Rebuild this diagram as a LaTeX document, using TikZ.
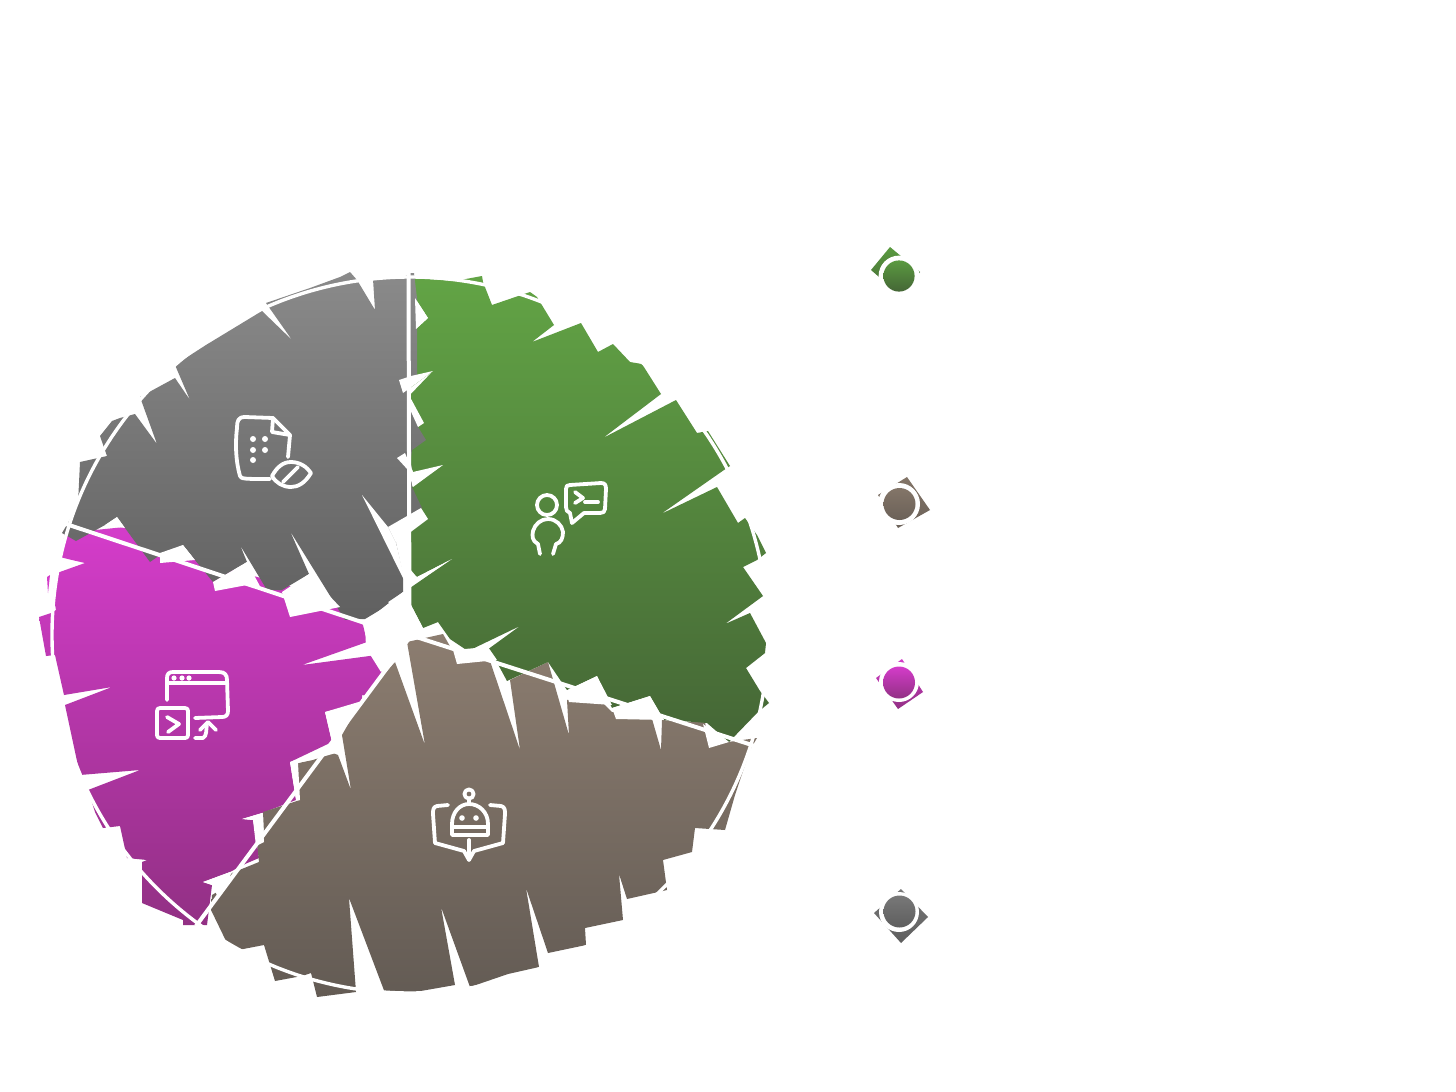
\documentclass[tikz,border=0pt]{standalone}
\usetikzlibrary{calc}
\definecolor{gnT}{HTML}{62A445}\definecolor{gnB}{HTML}{456636}
\definecolor{gyT}{HTML}{8A8A8A}\definecolor{gyB}{HTML}{606060}
\definecolor{mgT}{HTML}{D43CCA}\definecolor{mgB}{HTML}{923084}
\definecolor{brT}{HTML}{8C7D70}\definecolor{brB}{HTML}{635B54}
\tikzset{
  gnfill/.style={top color=gnT,bottom color=gnB},
  gyfill/.style={top color=gyT,bottom color=gyB},
  mgfill/.style={top color=mgT,bottom color=mgB},
  brfill/.style={top color=brT,bottom color=brB},
  gnkey/.style={top color=5A9A40,bottom color=gnB},
  gykey/.style={top color=787878,bottom color=5E5E5E},
  mgkey/.style={top color=mgT,bottom color=mgB},
  brkey/.style={top color=837568,bottom color=6B6158},
  divider/.style={draw=white,line width=2pt},
  icon/.style={draw=white,line width=1.9pt,line cap=round,line join=round},
  dotmark/.style={fill=white},
  notch/.style={fill=white}
}
\definecolor{5A9A40}{HTML}{5A9A40}\definecolor{787878}{HTML}{787878}\definecolor{5E5E5E}{HTML}{5E5E5E}\definecolor{837568}{HTML}{837568}\definecolor{6B6158}{HTML}{6B6158}
\begin{document}
\begin{tikzpicture}[x=0.5pt,y=-0.5pt]
\useasboundingbox[fill=white] (0,0) rectangle (1456,1092);
% magenta
\shade[mgfill] plot coordinates {(60,557)(65,533)(125,527)(160,545)(213,563)(250,575)(340,600)(363,625)(367,642)(302,665)(377,655)(386,684)(373,697)(362,695)(362,703)(325,712)(332,742)(290,762)(296,800)(262,813)(242,819)(253,820)(257,843)(259,858)(245,864)(230,872)(203,882)(212,885)(207,925)(183,925)(183,920)(142,903)(142,862)(147,860)(127,858)(120,826)(103,828)(95,812)(88,790)(140,770)(80,775)(65,705)(112,687)(64,695)(55,655)(46,656)(39,617)(51,613)(56,610)(53,593)(57,573)(85,563)(72,560)} -- cycle;
\fill[mgT] (47,577)--(50,575)--(48,593)--cycle;
% brown
\shade[brfill] plot coordinates {(362,700)(395,662)(425,745)(407,642)(443,634)(451,648)(488,655)(520,750)(510,680)(548,662)(569,735)(567,700)(597,697)(612,712)(650,712)(661,750)(662,720)(690,722)(705,722)(709,745)(728,742)(757,738)(750,750)(735,795)(725,830)(695,828)(692,852)(663,860)(667,890)(627,899)(619,874)(623,920)(585,928)(586,945)(548,953)(526,888)(539,967)(508,974)(470,987)(441,907)(455,985)(415,992)(385,993)(349,898)(356,992)(317,997)(311,973)(302,976)(275,981)(264,945)(238,950)(227,943)(211,910)(212,895)(217,892)(232,873)(259,862)(257,843)(264,833)(263,812)(300,800)(297,782)(298,763)(313,760)(333,753)(338,755)(351,790)(342,735)} -- cycle;
% green
\shade[gnfill] plot coordinates {(413,278)(455,281)(482,276)(483,282)(492,305)(530,292)(537,297)(554,325)(532,342)(581,323)(598,352)(613,344)(630,362)(642,364)(661,394)(603,438)(676,400)(697,433)(708,431)(730,466)(724,470)(661,514)(717,487)(738,523)(745,518)(757,535)(766,553)(757,560)(743,567)(763,596)(725,624)(750,613)(766,643)(765,653)(746,668)(760,691)(769,703)(758,712)(729,742)(707,723)(695,722)(664,720)(650,696)(612,708)(597,676)(567,690)(548,662)(507,681)(493,655)(487,650)(520,626)(468,651)(450,639)(438,622)(423,628)(410,603)(410,588)(452,559)(417,577)(411,570)(411,490)(413,485)(443,465)(414,477)(410,460)(410,395)(433,371)(410,388)(410,330)(416,329)(428,318)(415,298)} -- cycle;
% gray
\shade[gyfill] plot coordinates {(373,279)(404,277)(410,273)(414,273)(417,298)(417,375)(410,388)(410,397)(418,427)(426,440)(412,450)(411,458)(412,487)(422,508)(410,520)(396,543)(403,575)(403,592)(388,602)(390,604)(365,619)(345,620)(290,531)(309,574)(282,590)(267,590)(240,545)(247,562)(213,582)(195,560)(183,545)(160,555)(150,562)(125,528)(117,517)(105,525)(76,541)(62,533)(68,523)(78,503)(79,483)(80,462)(107,456)(100,436)(112,421)(120,418)(135,414)(157,444)(140,397)(175,378)(190,400)(175,365)(206,345)(262,311)(292,340)(266,303)(310,288)(340,277)(350,272)(357,280)(375,310)} -- cycle;
% white ring and dividers
\draw[divider,line width=1.7pt] (410,635) circle[radius=179pt];
\draw[divider] (408.5,272) -- (409.5,635);
\draw[divider] (66,524) -- (410,638);
\draw[divider] (410,635) -- (755,746);
\draw[divider] (196,926) -- (410,637);
% white notches
\fill[notch] (388,527)--(421,508)--(428,519)--(396,543)--cycle;
\fill[notch] (362,495)--(388,527)--(396,543)--(405,580)--(403,578)--cycle;
\fill[notch] (405,590)--(452,559)--(417,577)--(408,572)--cycle;
\fill[notch] (397,458)--(405,453)--(413,472)--(443,465)--(413,487)--(408,470)--cycle;
\fill[notch] (399,380)--(411,376)--(433,371)--(410,388)--(403,393)--cycle;
\fill[notch] (410,397)--(424,423)--(418,427)--(408,405)--cycle;
\fill[notch] (415,298)--(428,318)--(416,329)--cycle;
\fill[notch] (105,525)--(117,517)--(125,528)--cycle;
\fill[notch] (160,553)--(183,545)--(195,560)--(160,563)--cycle;
\fill[notch] (213,582)--(247,562)--(262,590)--(247,585)--(215,591)--cycle;
\fill[notch] (282,592)--(309,574)--(340,607)--(290,617)--cycle;
\fill[notch] (365,622)--(403,592)--(410,603)--(423,628)--(407,642)--(395,662)--(381,672)--(366,648)--cycle;
\fill[notch] (453,650)--(488,647)--(497,660)--(457,664)--cycle;
\fill[notch] (566,691)--(597,676)--(612,705)--(569,702)--cycle;
\fill[notch] (612,708)--(650,696)--(664,720)--(616,719)--cycle;
\fill[notch] (703,724)--(729,742)--(709,748)--cycle;
\fill[notch] (290,762)--(320,752)--(336,753)--(318,758)--(298,763)--(300,800)--(296,800)--cycle;
\fill[notch] (325,712)--(362,701)--(345,725)--(332,742)--cycle;
\fill[notch] (242,819)--(262,813)--(264,842)--(256,846)--(253,820)--cycle;
\fill[notch] (203,882)--(230,872)--(231,880)--(217,895)--(212,885)--cycle;
% icon: document with eye
\draw[icon] (288,457) -- (290,435) -- (273,418) -- (245,417) .. controls (238,417) and (237,421) .. (237,428) .. controls (235,445) and (236,462) .. (240,476) .. controls (241,479) and (245,479) .. (270,479);
\draw[icon] (273,418) -- (272,432) -- (290,435);
\foreach \p in {(253,439),(265,439),(253,450),(265,450),(253,460)} \fill[dotmark] \p circle[radius=1.5pt];
\draw[icon] (272,476) .. controls (277,467) and (283,462) .. (291,462) .. controls (300,462) and (307,467) .. (311,473) .. controls (305,483) and (298,487) .. (291,487) .. controls (283,487) and (276,483) .. (272,476) -- cycle;
\draw[icon] (283,482) -- (298,467);
% icon: person with terminal
\draw[icon] (547,505) circle[radius=5pt];
\draw[icon] (540,554) -- (538,544) .. controls (532,541) and (532,536) .. (533,531) .. controls (535,524) and (541,519) .. (548,519) .. controls (556,519) and (562,525) .. (563,532) .. controls (563,538) and (561,543) .. (556,544) -- (553,554);
\draw[icon] (570,485) -- (601,483) .. controls (605,483) and (606,485) .. (606,489) -- (605,509) .. controls (605,512) and (603,513) .. (600,513) -- (584,513) -- (572,523) -- (570,513) .. controls (567,512) and (566,510) .. (566,507) -- (566,489) .. controls (566,486) and (567,485) .. (570,485) -- cycle;
\draw[icon] (575,492) -- (583,498) -- (575,503);
\draw[icon] (585,502) -- (598,502);
% icon: window with terminal
\draw[icon] (167,700) -- (167,678) .. controls (167,674) and (169,672) .. (173,672) -- (219,672) .. controls (225,672) and (227,675) .. (227,680) -- (228,711) .. controls (228,715) and (226,717) .. (222,717) -- (195,718);
\draw[icon] (167,683) -- (227,683);
\foreach \p in {(174,678),(182,678),(189,678)} \fill[dotmark] \p circle[radius=1.3pt];
\draw[icon] (160,708) -- (185,708) .. controls (187,708) and (188,709) .. (188,711) -- (188,735) .. controls (188,737) and (187,738) .. (185,738) -- (160,738) .. controls (158,738) and (157,737) .. (157,735) -- (157,711) .. controls (157,709) and (158,708) .. (160,708) -- cycle;
\draw[icon] (167,717) -- (179,724) -- (168,732);
\draw[icon] (195,738) -- (203,738) .. controls (207,736) and (206,730) .. (207,723);
\draw[icon] (200,730) -- (208,722) -- (216,730);
% icon: robot and book
\draw[icon] (469,794) circle[radius=2.3pt];
\draw[icon] (469,799) -- (469,804);
\draw[icon] (452,835) -- (452,824) .. controls (452,812) and (460,804) .. (469,804) .. controls (479,804) and (488,812) .. (488,824) -- (488,835) -- cycle;
\draw[icon] (454,827) -- (486,827);
\foreach \p in {(462,818),(476,818)} \fill[dotmark] \p circle[radius=1.4pt];
\draw[icon] (448,805) -- (437,806) .. controls (433,807) and (433,810) .. (433,814) -- (435,843) -- (464,851) -- (469,860) -- (474,851) -- (503,843) -- (505,814) .. controls (505,810) and (505,807) .. (501,806) -- (490,805);
\draw[icon] (469,840) -- (469,858);
% legend
\shade[gnkey] (890,247)--(871,270)--(901,296)--(920,272)--cycle;
\fill[white] (899,276) circle[radius=10.2pt];
\shade[gnkey] (899,276) circle[radius=7.8pt];
\shade[brkey] (907,477)--(930,510)--(898,528)--(878,495)--cycle;
\fill[white] (899,504) circle[radius=10.5pt];
\shade[brkey] (899.5,504) circle[radius=8pt];
\shade[mgkey] (902,659)--(876,678)--(898,709)--(923,692)--cycle;
\fill[white] (899,682) circle[radius=10pt];
\shade[mgkey] (899,682.5) circle[radius=8pt];
\shade[gykey] (901,889)--(874,913)--(901,943)--(928,917)--cycle;
\fill[white] (899,912) circle[radius=10pt];
\shade[gykey] (899.5,911.5) circle[radius=8pt];
\end{tikzpicture}
\end{document}
